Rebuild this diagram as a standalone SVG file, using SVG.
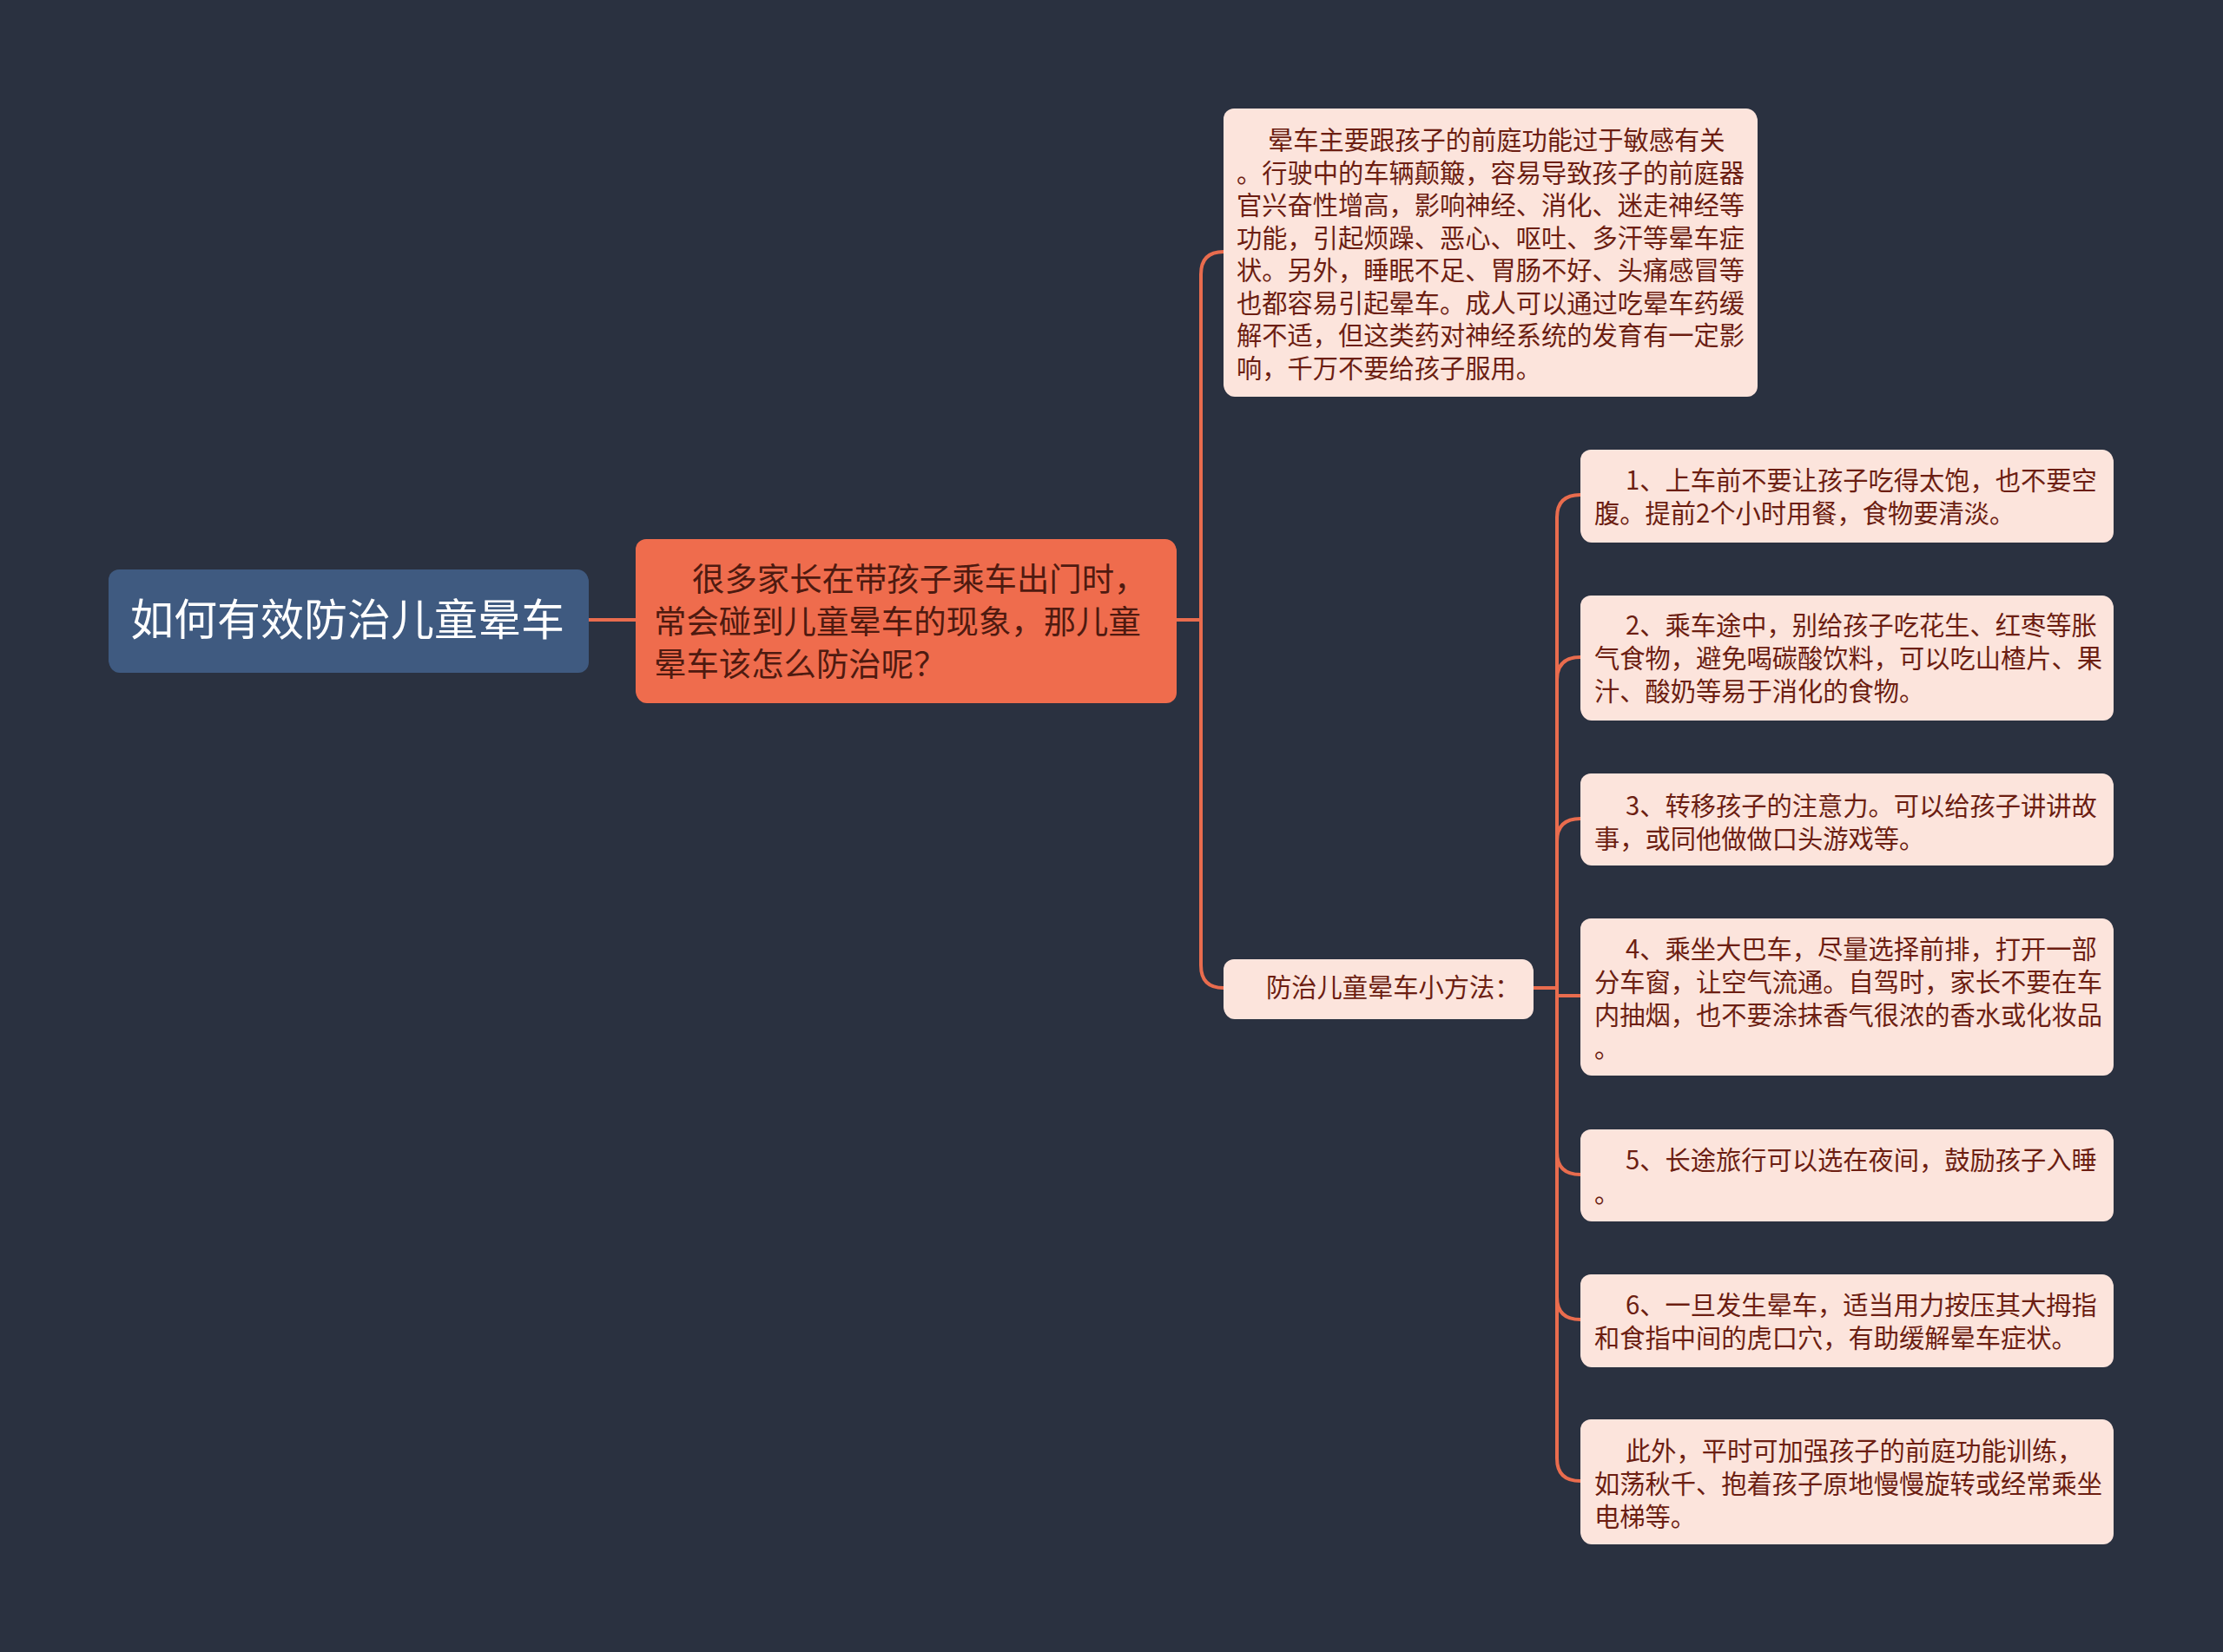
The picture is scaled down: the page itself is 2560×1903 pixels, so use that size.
<svg xmlns="http://www.w3.org/2000/svg" width="2560" height="1903" viewBox="0 0 2560 1903">
<defs>
<style>
.bg{fill:#2a3140}
.root rect{fill:#3f5a80}
.root text{fill:#ffffff;font-size:50px}
.main rect{fill:#ef6c4d}
.main text{fill:#4e1a10;font-size:37.4px}
.leaf rect{fill:#fce4dc}
.leaf text{fill:#6c1e12;font-size:29.25px}
text{font-family:"Noto Sans CJK SC","Noto Sans",sans-serif;dominant-baseline:central}
.conn path{fill:none;stroke:#e96c4e;stroke-width:4;stroke-linecap:round}
.sh{fill:#1c212c}
</style>
</defs>
<rect class="bg" x="0" y="0" width="2560" height="1903"/>
<g class="conn" id="connectors">
<path d="M677,714 H732"/>
<path d="M1354,714 H1383"/>
<path d="M1383,714 V316 Q1383,290 1409,290"/>
<path d="M1383,714 V1112 Q1383,1138 1409,1138"/>
<path d="M1765,1138 H1793"/>
<path d="M1793,1138 V596 Q1793,570 1820,570"/>
<path d="M1793,1138 V783 Q1793,757 1820,757"/>
<path d="M1793,1138 V969 Q1793,943 1820,943"/>
<path d="M1793,1138 V1147 H1820"/>
<path d="M1793,1138 V1327 Q1793,1353 1820,1353"/>
<path d="M1793,1138 V1494 Q1793,1520 1820,1520"/>
<path d="M1793,1138 V1680 Q1793,1706 1820,1706"/>
</g>
<g class="root" id="root">
<rect class="sh" x="126" y="658" width="552" height="117" rx="12"/>
<rect x="125" y="656" width="552" height="117" rx="12"/>
<text x="150" y="710">如何有效防治儿童晕车</text>
</g>
<g class="main" id="main">
<rect class="sh" x="733" y="623" width="622" height="187" rx="12"/>
<rect x="732" y="621" width="622" height="187" rx="12"/>
<text x="797" y="665">很多家长在带孩子乘车出门时，</text>
<text x="753" y="714">常会碰到儿童晕车的现象，那儿童</text>
<text x="753" y="763">晕车该怎么防治呢？</text>
</g>
<g class="leaf" id="cause">
<rect class="sh" x="1410" y="127" width="614" height="330" rx="12"/>
<rect x="1409" y="125" width="614" height="330" rx="12"/>
<text x="1460" y="159">晕车主要跟孩子的前庭功能过于敏感有关</text>
<text x="1424" y="196.5">。行驶中的车辆颠簸，容易导致孩子的前庭器</text>
<text x="1424" y="234">官兴奋性增高，影响神经、消化、迷走神经等</text>
<text x="1424" y="271.5">功能，引起烦躁、恶心、呕吐、多汗等晕车症</text>
<text x="1424" y="309">状。另外，睡眠不足、胃肠不好、头痛感冒等</text>
<text x="1424" y="346.5">也都容易引起晕车。成人可以通过吃晕车药缓</text>
<text x="1424" y="384">解不适，但这类药对神经系统的发育有一定影</text>
<text x="1424" y="421.5">响，千万不要给孩子服用。</text>
</g>
<g class="leaf" id="methods">
<rect class="sh" x="1410" y="1107" width="356" height="67" rx="12"/>
<rect x="1409" y="1105" width="356" height="67" rx="12"/>
<text x="1458" y="1135">防治儿童晕车小方法：</text>
</g>
<g class="leaf" id="m1">
<rect class="sh" x="1821" y="520" width="613" height="105" rx="12"/>
<rect x="1820" y="518" width="613" height="105" rx="12"/>
<text x="1872" y="551">1、上车前不要让孩子吃得太饱，也不要空</text>
<text x="1836" y="589">腹。提前2个小时用餐，食物要清淡。</text>
</g>
<g class="leaf" id="m2">
<rect class="sh" x="1821" y="688" width="613" height="142" rx="12"/>
<rect x="1820" y="686" width="613" height="142" rx="12"/>
<text x="1872" y="718">2、乘车途中，别给孩子吃花生、红枣等胀</text>
<text x="1836" y="756">气食物，避免喝碳酸饮料，可以吃山楂片、果</text>
<text x="1836" y="794">汁、酸奶等易于消化的食物。</text>
</g>
<g class="leaf" id="m3">
<rect class="sh" x="1821" y="893" width="613" height="104" rx="12"/>
<rect x="1820" y="891" width="613" height="104" rx="12"/>
<text x="1872" y="926">3、转移孩子的注意力。可以给孩子讲讲故</text>
<text x="1836" y="964">事，或同他做做口头游戏等。</text>
</g>
<g class="leaf" id="m4">
<rect class="sh" x="1821" y="1060" width="613" height="179" rx="12"/>
<rect x="1820" y="1058" width="613" height="179" rx="12"/>
<text x="1872" y="1091">4、乘坐大巴车，尽量选择前排，打开一部</text>
<text x="1836" y="1129">分车窗，让空气流通。自驾时，家长不要在车</text>
<text x="1836" y="1167">内抽烟，也不要涂抹香气很浓的香水或化妆品</text>
<text x="1836" y="1205">。</text>
</g>
<g class="leaf" id="m5">
<rect class="sh" x="1821" y="1303" width="613" height="104" rx="12"/>
<rect x="1820" y="1301" width="613" height="104" rx="12"/>
<text x="1872" y="1334">5、长途旅行可以选在夜间，鼓励孩子入睡</text>
<text x="1836" y="1372">。</text>
</g>
<g class="leaf" id="m6">
<rect class="sh" x="1821" y="1470" width="613" height="105" rx="12"/>
<rect x="1820" y="1468" width="613" height="105" rx="12"/>
<text x="1872" y="1501">6、一旦发生晕车，适当用力按压其大拇指</text>
<text x="1836" y="1539">和食指中间的虎口穴，有助缓解晕车症状。</text>
</g>
<g class="leaf" id="m7">
<rect class="sh" x="1821" y="1637" width="613" height="142" rx="12"/>
<rect x="1820" y="1635" width="613" height="142" rx="12"/>
<text x="1872" y="1669">此外，平时可加强孩子的前庭功能训练，</text>
<text x="1836" y="1707">如荡秋千、抱着孩子原地慢慢旋转或经常乘坐</text>
<text x="1836" y="1745">电梯等。</text>
</g>
</svg>
